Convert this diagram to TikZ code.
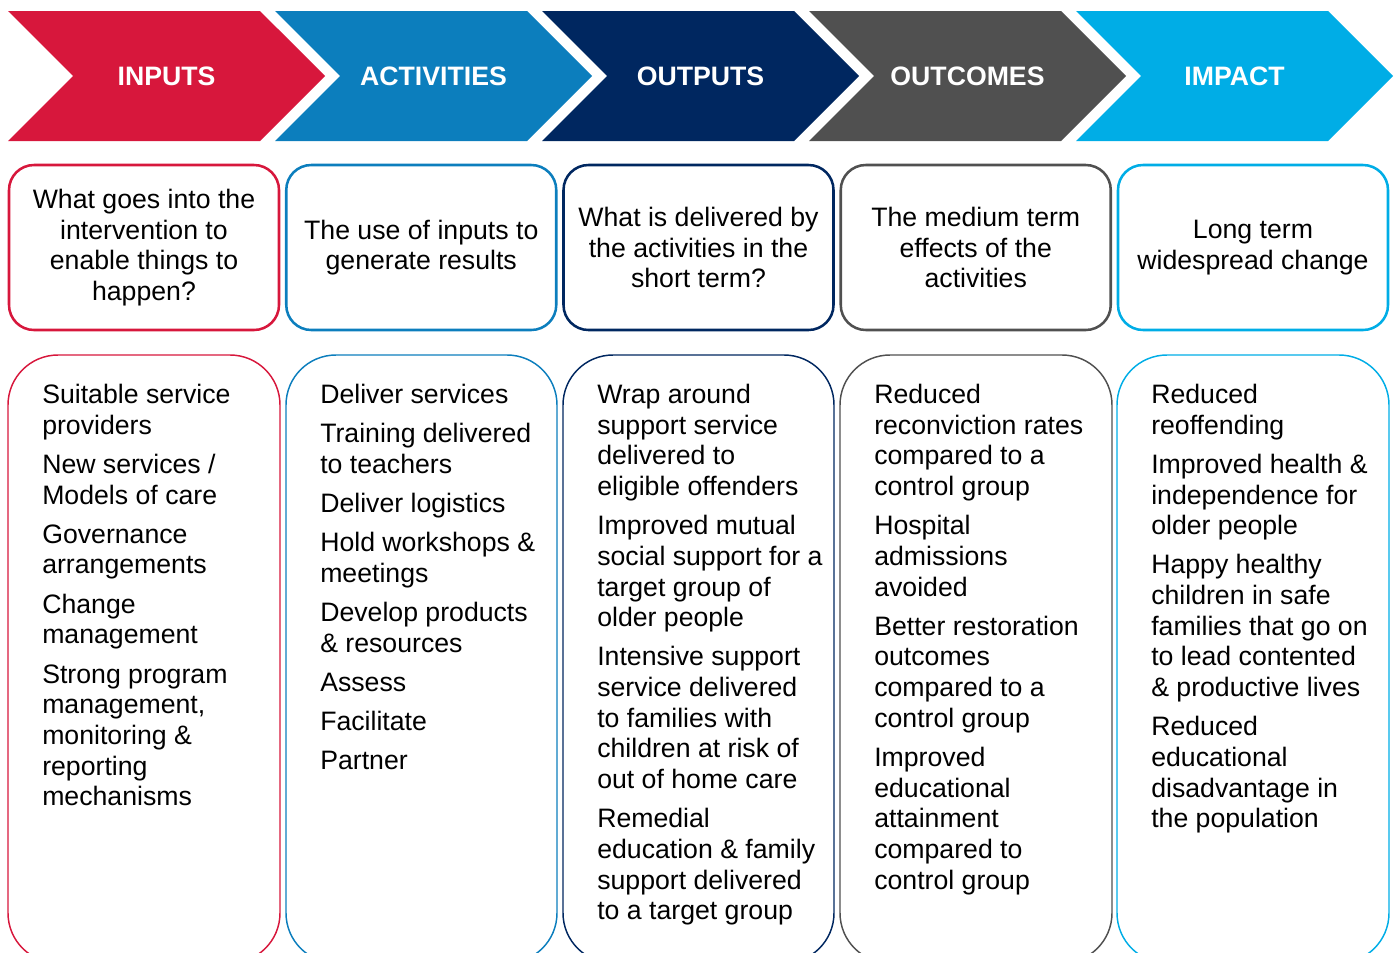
\documentclass[tikz,border=0pt]{standalone}
\usepackage{fontspec}
\setmainfont{Liberation Sans}
\usetikzlibrary{shapes.symbols}

\definecolor{inred}{RGB}{215,23,60}
\definecolor{actblue}{RGB}{12,126,189}
\definecolor{outnavy}{RGB}{0,39,96}
\definecolor{ocgrey}{RGB}{80,80,80}
\definecolor{impcyan}{RGB}{0,173,230}

\begin{document}
\begin{tikzpicture}[%
    x=0.75pt,
    y=-0.75pt,
    font=\fontsize{20}{23}\selectfont,
    stage/.style={signal, signal from=west, signal to=east,
      minimum width=237.75pt, minimum height=97.5pt, inner sep=0pt,
      text=white, font=\fontsize{20}{23}\selectfont\bfseries},
    question/.style={draw, line width=1.9pt, rounded corners=18.75pt,
      minimum width=202.5pt, minimum height=123.75pt, align=center,
      inner sep=0pt},
    items/.style={anchor=north west, align=left, inner sep=0pt},
    column/.style={line width=1.1pt, rounded corners=37.5pt}
  ]

  \useasboundingbox (0,0) rectangle (1397,953);
  \clip (0,0) rectangle (1397,953);

  % stages
  \node[stage, fill=inred]   (in)   at (166.5,76)  {INPUTS};
  \node[stage, fill=actblue] (act)  at (433.5,76)  {ACTIVITIES};
  \node[stage, fill=outnavy] (out)  at (700.5,76)  {OUTPUTS};
  \node[stage, fill=ocgrey]  (outc) at (967.5,76)  {OUTCOMES};
  \node[stage, fill=impcyan] (imp)  at (1234.5,76) {IMPACT};

  % questions
  \node[question, draw=inred]   (inq)   at (144,247.5)
    {What goes into the\\intervention to\\enable things to\\happen?};
  \node[question, draw=actblue] (actq)  at (421.25,247.5)
    {The use of inputs to\\generate results};
  \node[question, draw=outnavy] (outq)  at (698.5,247.5)
    {What is delivered by\\the activities in the\\short term?};
  \node[question, draw=ocgrey]  (outcq) at (975.75,247.5)
    {The medium term\\effects of the\\activities};
  \node[question, draw=impcyan] (impq)  at (1253,247.5)
    {Long term\\widespread change};

  % columns
  \draw[column, inred]   (8,963)    rectangle (280,355);
  \draw[column, actblue] (286,963)  rectangle (557,355);
  \draw[column, outnavy] (563,963)  rectangle (834,355);
  \draw[column, ocgrey]  (840,963)  rectangle (1112,355);
  \draw[column, impcyan] (1117,963) rectangle (1389,355);

  \node[items] (inlist) at (42,384)
    {Suitable service\\providers\\[6.4pt]
     New services /\\Models of care\\[6.4pt]
     Governance\\arrangements\\[6.4pt]
     Change\\management\\[6.4pt]
     Strong program\\management,\\monitoring \&\\reporting\\mechanisms};
  \node[items] (actlist) at (320,384)
    {Deliver services\\[6.4pt]
     Training delivered\\to teachers\\[6.4pt]
     Deliver logistics\\[6.4pt]
     Hold workshops \&\\meetings\\[6.4pt]
     Develop products\\\& resources\\[6.4pt]
     Assess\\[6.4pt]
     Facilitate\\[6.4pt]
     Partner};
  \node[items] (outlist) at (597,384)
    {Wrap around\\support service\\delivered to\\eligible offenders\\[6.4pt]
     Improved mutual\\social support for a\\target group of\\older people\\[6.4pt]
     Intensive support\\service delivered\\to families with\\children at risk of\\out of home care\\[6.4pt]
     Remedial\\education \& family\\support delivered\\to a target group};
  \node[items] (outclist) at (874,384)
    {Reduced\\reconviction rates\\compared to a\\control group\\[6.4pt]
     Hospital\\admissions\\avoided\\[6.4pt]
     Better restoration\\outcomes\\compared to a\\control group\\[6.4pt]
     Improved\\educational\\attainment\\compared to\\control group};
  \node[items] (implist) at (1151,384)
    {Reduced\\reoffending\\[6.4pt]
     Improved health \&\\independence for\\older people\\[6.4pt]
     Happy healthy\\children in safe\\families that go on\\to lead contented\\\& productive lives\\[6.4pt]
     Reduced\\educational\\disadvantage in\\the population};
\end{tikzpicture}
\end{document}
